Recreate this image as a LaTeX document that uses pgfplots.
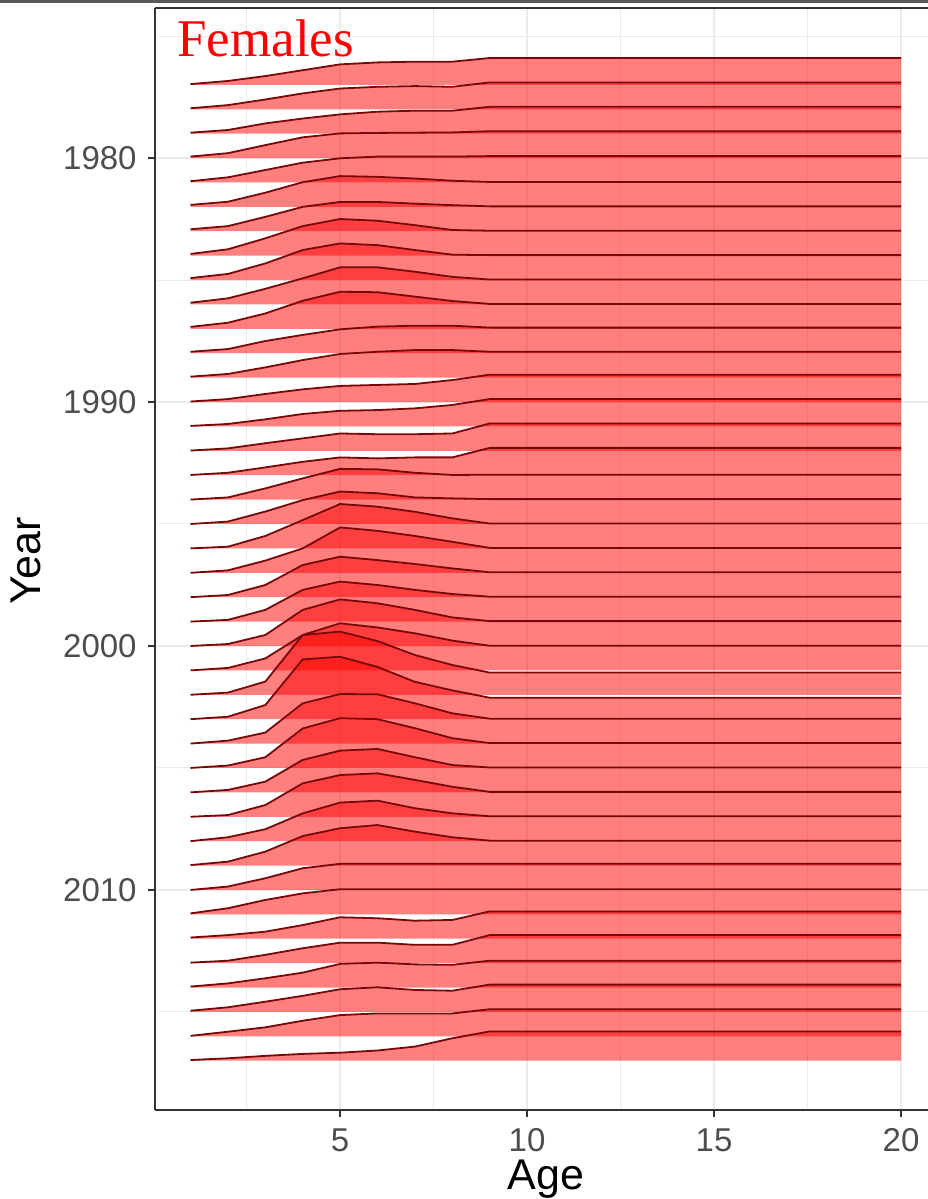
\documentclass[border=0pt]{standalone}
\usepackage{fontspec}
\setmainfont{Liberation Sans}
\newfontfamily\seriffont{Liberation Serif}
\usepackage{pgfplots}
\usepackage{pgfplotstable}
\pgfplotsset{compat=1.18}
\usetikzlibrary{calc}
\definecolor{ridgeline}{RGB}{120,8,8}
\definecolor{gridc}{RGB}{235,235,235}
\definecolor{borderc}{RGB}{51,51,51}
\definecolor{tickc}{RGB}{77,77,77}

% rows: age; columns: height of each year's ridge (in years)
\pgfplotstableread{
age y1977 y1978 y1979 y1980 y1981 y1982 y1983 y1984 y1985 y1986 y1987 y1988 y1989 y1990 y1991 y1992 y1993 y1994 y1995 y1996 y1997 y1998 y1999 y2000 y2001 y2002 y2003 y2004 y2005 y2006 y2007 y2008 y2009 y2010 y2011 y2012 y2013 y2014 y2015 y2016 y2017
1 0.03 0.04 0.04 0.06 0.05 0.08 0.08 0.07 0.08 0.07 0.08 0.06 0.04 0.02 0.02 0.01 0.01 0 0 0 0 0 0 0 0 0 0 0 0 0 0 0 0.02 0 0.04 0.05 0.02 0.04 0.05 0.02 0.03
2 0.16 0.17 0.15 0.20 0.21 0.21 0.21 0.26 0.25 0.25 0.25 0.17 0.15 0.12 0.10 0.10 0.10 0.09 0.10 0.07 0.10 0.09 0.07 0.08 0.10 0.09 0.10 0.12 0.10 0.10 0.07 0.16 0.16 0.14 0.25 0.15 0.10 0.17 0.19 0.19 0.10
3 0.36 0.40 0.42 0.53 0.51 0.58 0.59 0.71 0.68 0.64 0.63 0.50 0.42 0.33 0.29 0.31 0.32 0.46 0.51 0.51 0.50 0.50 0.48 0.45 0.49 0.54 0.58 0.45 0.44 0.44 0.48 0.49 0.57 0.48 0.59 0.29 0.34 0.38 0.42 0.37 0.20
4 0.60 0.65 0.62 0.85 0.81 1.01 1.00 1.21 1.23 1.07 1.15 0.75 0.72 0.52 0.51 0.51 0.55 0.87 0.98 1.16 1.00 1.32 1.30 1.48 1.45 2.45 2.45 1.65 1.62 1.33 1.37 1.14 1.21 0.89 0.86 0.56 0.61 0.61 0.66 0.64 0.28
5 0.84 0.85 0.79 1.01 0.99 1.26 1.20 1.50 1.50 1.52 1.52 0.98 0.97 0.66 0.64 0.71 0.73 1.26 1.33 1.82 1.86 1.66 1.64 1.91 1.93 2.59 2.56 2.03 2.04 1.71 1.71 1.58 1.53 1.07 1.03 0.88 0.84 0.97 0.93 0.87 0.33
6 0.92 0.92 0.90 1.03 1.06 1.23 1.20 1.43 1.43 1.52 1.50 1.09 1.06 0.70 0.67 0.68 0.69 1.24 1.26 1.71 1.72 1.52 1.50 1.75 1.76 2.20 2.14 2.02 2.00 1.78 1.78 1.66 1.66 1.07 1.03 0.84 0.84 1.02 1.01 0.94 0.42
7 0.95 0.95 0.94 1.04 1.06 1.16 1.13 1.25 1.23 1.34 1.32 1.13 1.13 0.74 0.74 0.68 0.73 1.10 1.09 1.50 1.51 1.36 1.30 1.48 1.52 1.63 1.53 1.65 1.63 1.44 1.51 1.35 1.39 1.07 1.03 0.74 0.75 0.95 0.90 0.94 0.58
8 0.95 0.92 0.94 1.05 1.06 1.07 1.07 1.05 1.04 1.13 1.14 1.13 1.13 0.90 0.88 0.71 0.73 1.01 1.05 1.23 1.27 1.18 1.13 1.17 1.22 1.22 1.18 1.24 1.22 1.12 1.23 1.14 1.16 1.07 1.03 0.77 0.75 0.93 0.87 0.94 0.92
9 1.10 1.10 1.10 1.10 1.08 1.02 1.02 1.02 1.02 1.02 1.02 1.05 1.06 1.12 1.12 1.12 1.12 1.02 1.02 1.02 1.02 1.02 1.02 1.02 1.01 0.91 0.88 1.02 1.02 1.02 1.02 1.02 1.02 1.07 1.03 1.12 1.15 1.10 1.12 1.11 1.20
20 1.10 1.10 1.10 1.10 1.08 1.02 1.02 1.02 1.02 1.02 1.02 1.05 1.06 1.12 1.12 1.12 1.12 1.02 1.02 1.02 1.02 1.02 1.02 1.02 1.01 0.91 0.88 1.02 1.02 1.02 1.02 1.02 1.02 1.07 1.03 1.12 1.15 1.10 1.12 1.11 1.20
20 0 0 0 0 0 0 0 0 0 0 0 0 0 0 0 0 0 0 0 0 0 0 0 0 0 0 0 0 0 0 0 0 0 0 0 0 0 0 0 0 0
1 0 0 0 0 0 0 0 0 0 0 0 0 0 0 0 0 0 0 0 0 0 0 0 0 0 0 0 0 0 0 0 0 0 0 0 0 0 0 0 0 0
}\ridges

\begin{document}
\begin{tikzpicture}
\begin{axis}[
  scale only axis, width=386.5pt, height=551pt,
  xmin=0.05, xmax=20.72, ymin=1973.85, ymax=2019.02, y dir=reverse,
  clip mode=individual,
  axis x line*=box, axis y line*=left,
  axis line style={borderc, line width=1pt, -},
  xtick={5,10,15,20}, minor xtick={2.5,7.5,12.5,17.5},
  ytick={1980,1990,2000,2010}, minor ytick={1975,1985,1995,2005,2015},
  xtick pos=bottom, ytick pos=left,
  tick align=outside, major tick length=3.5pt, minor tick length=0pt,
  every tick/.style={borderc, line width=1pt},
  grid=both,
  major grid style={gridc, line width=1pt},
  minor grid style={gridc, line width=0.5pt},
  /pgf/number format/assume math mode=true,
  /pgf/number format/1000 sep={},
  tick label style={font=\fontsize{16.5}{18}\selectfont, text=tickc, inner sep=0pt},
  xticklabel style={anchor=north, yshift=-5.5pt},
  yticklabel style={anchor=east, xshift=-5.5pt},
]
\pgfplotsinvokeforeach{1977,1978,1979,1980,1981,1982,1983,1984,1985,1986,1987,1988,1989,1990,1991,1992,1993,1994,1995,1996,1997,1998,1999,2000,2001,2002,2003,2004,2005,2006,2007,2008,2009,2010,2011,2012,2013,2014,2015,2016,2017}{
  \addplot[draw=none, fill=red, fill opacity=0.5, forget plot]
    table[x=age, y expr={#1-\thisrow{y#1}}] {\ridges};
}
\pgfplotsinvokeforeach{1977,1978,1979,1980,1981,1982,1983,1984,1985,1986,1987,1988,1989,1990,1991,1992,1993,1994,1995,1996,1997,1998,1999,2000,2001,2002,2003,2004,2005,2006,2007,2008,2009,2010,2011,2012,2013,2014,2015,2016,2017}{
  \addplot[ridgeline, line width=0.9pt, line join=round, mark=none, forget plot,
           skip coords between index={10}{12}]
    table[x=age, y expr={#1-\thisrow{y#1}}] {\ridges};
}
\node[anchor=base west, inner sep=0pt, text=red,
      font=\seriffont\fontsize{26.5}{28}\selectfont] at (axis cs:0.64,1975.85) {Females};
\coordinate (pbl) at (axis cs:0.05,2019.02);
\coordinate (ptr) at (axis cs:20.72,1973.85);
\coordinate (agepos) at (axis cs:10.5,2019.02);
\coordinate (yearpos) at (axis cs:0.05,1996.5);
\end{axis}
\node[anchor=base, inner sep=0pt, font=\fontsize{21.5}{24}\selectfont]
  at ($(agepos)+(0,-39.5pt)$) {Age};
\node[anchor=center, inner sep=0pt, font=\fontsize{21.5}{24}\selectfont, rotate=90]
  at ($(yearpos)+(-64.5pt,0)$) {Year};
\pgfresetboundingbox
\path[use as bounding box] ($(pbl)+(-77.5pt,-44.5pt)$) rectangle ($(ptr)+(0,4pt)$);
\draw[color=black!65, line width=1.4pt] ($(pbl|-ptr)+(-77.5pt,3.3pt)$) -- ($(ptr)+(0,3.3pt)$);
\end{tikzpicture}
\end{document}
